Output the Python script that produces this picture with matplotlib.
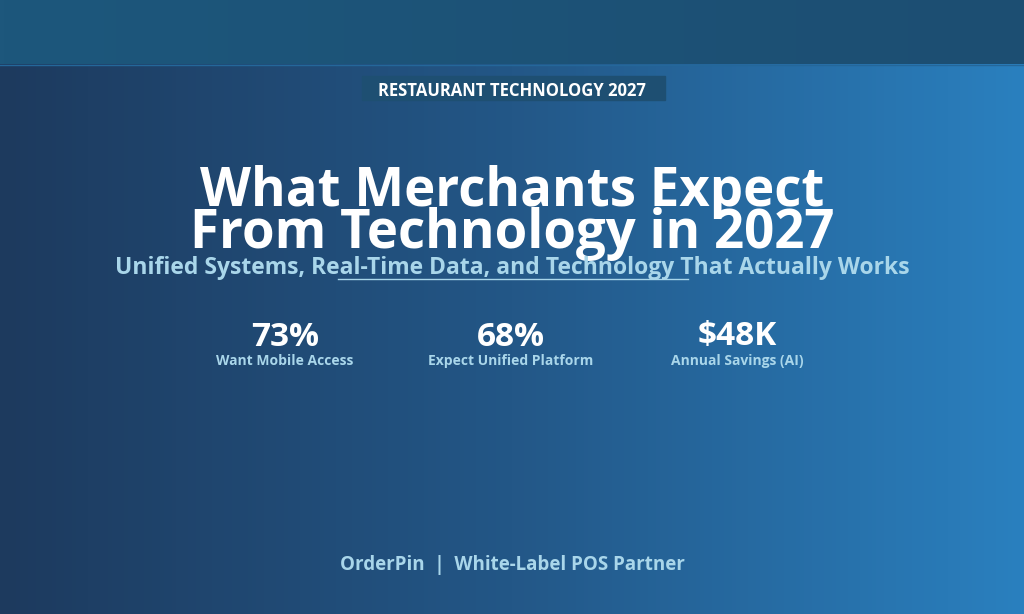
import numpy as np
import matplotlib.pyplot as plt
from matplotlib.colors import LinearSegmentedColormap

kicker = "RESTAURANT TECHNOLOGY 2027"
title_lines = ["What Merchants Expect", "From Technology in 2027"]
subtitle = "Unified Systems, Real-Time Data, and Technology That Actually Works"
stat_values = ["73%", "68%", "$48K"]
stat_labels = ["Want Mobile Access", "Expect Unified Platform", "Annual Savings (AI)"]
footer = "OrderPin  |  White-Label POS Partner"

W, H = 1024, 614
fig = plt.figure(figsize=(W / 100, H / 100), dpi=100)
ax = fig.add_axes([0, 0, 1, 1])
ax.set_xlim(0, W)
ax.set_ylim(H, 0)
ax.axis('off')

# background gradient, dark navy on the left to brighter blue on the right
cmap = LinearSegmentedColormap.from_list('bg', ['#1d3a5e', '#235787', '#2a80bf'])
grad = np.tile(np.linspace(0, 1, 512), (2, 1))
ax.imshow(grad, cmap=cmap, extent=[0, W, H, 64], aspect='auto', zorder=0)

# top band, slightly lighter on the left
band = LinearSegmentedColormap.from_list('band', ['#1d577c', '#1c4e72'])
ax.imshow(grad, cmap=band, extent=[0, W, 64, 0], aspect='auto', zorder=1)
ax.plot([0, W], [64.5, 64.5], color='#24679a', lw=1, zorder=1)

font = 'Open Sans'

# kicker label with box
ax.add_patch(plt.Rectangle((362, 76), 303, 24, color='#1e4f72', zorder=2))
ax.text(512, 91, kicker, ha='center', va='center', color='white',
        fontsize=12, fontweight='bold', family=font, zorder=3)

ax.text(512, 192, title_lines[0], ha='center', va='center', color='white',
        fontsize=38, fontweight='bold', family=font, zorder=3)
ax.text(512, 234, title_lines[1], ha='center', va='center', color='white',
        fontsize=38, fontweight='bold', family=font, zorder=3)

ax.text(512, 268, subtitle, ha='center', va='center', color='#a9d6ea',
        fontsize=16.5, fontweight='bold', family=font, zorder=3)
ax.plot([338, 688], [279, 279], color='#a9d6ea', lw=1, zorder=3)

stat_x = [285, 511, 737]
for x, v, lab in zip(stat_x, stat_values, stat_labels):
    ax.text(x, 337, v, ha='center', va='center', color='white',
            fontsize=24, fontweight='bold', family=font, zorder=3)
    ax.text(x, 361, lab, ha='center', va='center', color='#a9d6ea',
            fontsize=10, fontweight='bold', family=font, zorder=3)

ax.text(512, 565, footer, ha='center', va='center', color='#a9d6ea',
        fontsize=13.5, fontweight='bold', family=font, zorder=3)

fig.savefig('out.png', dpi=100)
